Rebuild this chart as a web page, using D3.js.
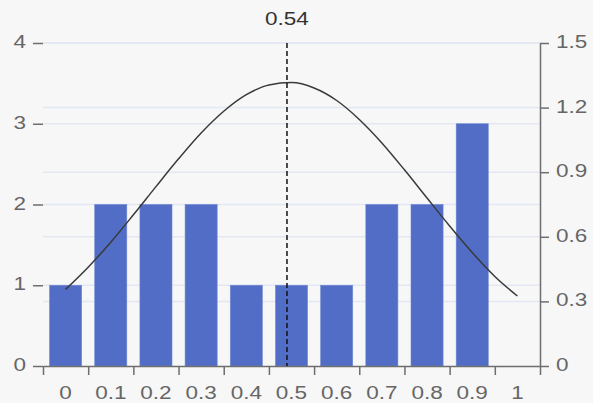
<!DOCTYPE html>
<html>
<head>
<meta charset="utf-8">
<script src="https://cdn.jsdelivr.net/npm/d3@7"></script>
<style>
  html, body { margin: 0; padding: 0; background: #f7f7f7; }
  svg { display: block; }
</style>
</head>
<body>
<div id="chart"></div>
<script>
// ---- data ----
const binLabels = ["0", "0.1", "0.2", "0.3", "0.4", "0.5", "0.6", "0.7", "0.8", "0.9", "1"];
const binCenters = [0.05, 0.15, 0.25, 0.35, 0.45, 0.55, 0.65, 0.75, 0.85, 0.95, 1.05];
const counts = [1, 2, 2, 2, 1, 1, 1, 2, 2, 3, 0];
const curveX = [0.05, 0.10, 0.15, 0.20, 0.25, 0.30, 0.35, 0.40, 0.45, 0.50, 0.55,
                0.60, 0.65, 0.70, 0.75, 0.80, 0.85, 0.90, 0.95, 1.00, 1.05];
const curveY = [0.356, 0.459, 0.575, 0.702, 0.833, 0.962, 1.082, 1.183, 1.260, 1.305, 1.316,
                1.291, 1.233, 1.145, 1.036, 0.911, 0.780, 0.650, 0.527, 0.416, 0.325];
const meanValue = 0.54;
const meanLabel = "0.54";
const xTickValues = [0, 0.1, 0.2, 0.3, 0.4, 0.5, 0.6, 0.7, 0.8, 0.9, 1.0, 1.1];
const leftTicks = [0, 1, 2, 3, 4];
const rightTicks = [0, 0.3, 0.6, 0.9, 1.2, 1.5];
const rightTickLabels = ["0", "0.3", "0.6", "0.9", "1.2", "1.5"];

// ---- layout ----
const W = 593, H = 403;
const L = 43, R = 540, T = 43, B = 366;
const axisColor = "#6e6e6e";
const textColor = "#666666";
const gridColor = "#e3e7f3";
const barColor = "#516dc6";
const fs = 18, sx = 1.25;

const svg = d3.select("#chart").append("svg")
  .attr("width", W).attr("height", H)
  .style("font-family", "'Liberation Sans', Arial, sans-serif");

svg.append("rect").attr("width", W).attr("height", H).attr("fill", "#f7f7f7");

const x = d3.scaleLinear().domain([0, 1.1]).range([L, R]);
const yL = d3.scaleLinear().domain([0, 4]).range([B, T]);
const yR = d3.scaleLinear().domain([0, 1.5]).range([B, T]);

function label(g, tx, ty, txt, anchor) {
  g.append("text")
    .attr("transform", `translate(${tx},${ty}) scale(${sx},1)`)
    .attr("text-anchor", anchor)
    .attr("font-size", fs)
    .attr("fill", textColor)
    .text(txt);
}

// gridlines
const grid = svg.append("g");
leftTicks.filter(d => d > 0).forEach(d => {
  grid.append("line").attr("x1", L).attr("x2", R)
    .attr("y1", yL(d)).attr("y2", yL(d))
    .attr("stroke", gridColor).attr("stroke-width", 1.5);
});
rightTicks.filter(d => d > 0).forEach(d => {
  grid.append("line").attr("x1", L).attr("x2", R)
    .attr("y1", yR(d)).attr("y2", yR(d))
    .attr("stroke", gridColor).attr("stroke-width", 1.5);
});

// bars
const binW = x(0.1) - x(0);
const barW = binW * 0.71;
svg.append("g").selectAll("rect").data(counts).join("rect")
  .attr("x", (d, i) => x(binCenters[i]) - barW / 2)
  .attr("width", barW)
  .attr("y", d => yL(d))
  .attr("height", d => yL(0) - yL(d))
  .attr("fill", barColor)
  .attr("stroke", "#6f88d2")
  .attr("stroke-width", 0.6);

// bottom axis
const gx = svg.append("g").attr("transform", `translate(0,${B})`)
  .call(d3.axisBottom(x).tickValues(xTickValues).tickSize(9).tickSizeOuter(0).tickFormat(""));
gx.selectAll("path,line").attr("stroke", axisColor).attr("stroke-width", 1.5);
binLabels.forEach((t, i) => label(svg, x(binCenters[i]), 399, t, "middle"));

// left axis (ticks only)
const gl = svg.append("g").attr("transform", `translate(${L},0)`)
  .call(d3.axisLeft(yL).tickValues(leftTicks).tickSize(10).tickFormat(""));
gl.select(".domain").remove();
gl.selectAll("line").attr("stroke", axisColor).attr("stroke-width", 1.5);
leftTicks.forEach(d => label(svg, 26, yL(d) + 5, String(d), "end"));

// right axis
const gr = svg.append("g").attr("transform", `translate(${R},0)`)
  .call(d3.axisRight(yR).tickValues(rightTicks).tickSize(9).tickSizeOuter(0).tickFormat(""));
gr.selectAll("path,line").attr("stroke", axisColor).attr("stroke-width", 1.5);
rightTicks.forEach((d, i) => label(svg, 556, yR(d) + 5, rightTickLabels[i], "start"));

// bell curve
const line = d3.line().x((d, i) => x(curveX[i])).y(d => yR(d)).curve(d3.curveMonotoneX);
svg.append("path").datum(curveY)
  .attr("d", line)
  .attr("fill", "none")
  .attr("stroke", "#3a3a3a")
  .attr("stroke-width", 1.5);

// mean line
svg.append("line")
  .attr("x1", x(meanValue)).attr("x2", x(meanValue))
  .attr("y1", T).attr("y2", B)
  .attr("stroke", "#111")
  .attr("stroke-width", 1.5)
  .attr("stroke-dasharray", "5,3");
svg.append("text")
  .attr("transform", `translate(${x(meanValue)},25) scale(${sx},1)`)
  .attr("text-anchor", "middle")
  .attr("font-size", fs)
  .attr("fill", "#333")
  .text(meanLabel);
</script>
</body>
</html>
